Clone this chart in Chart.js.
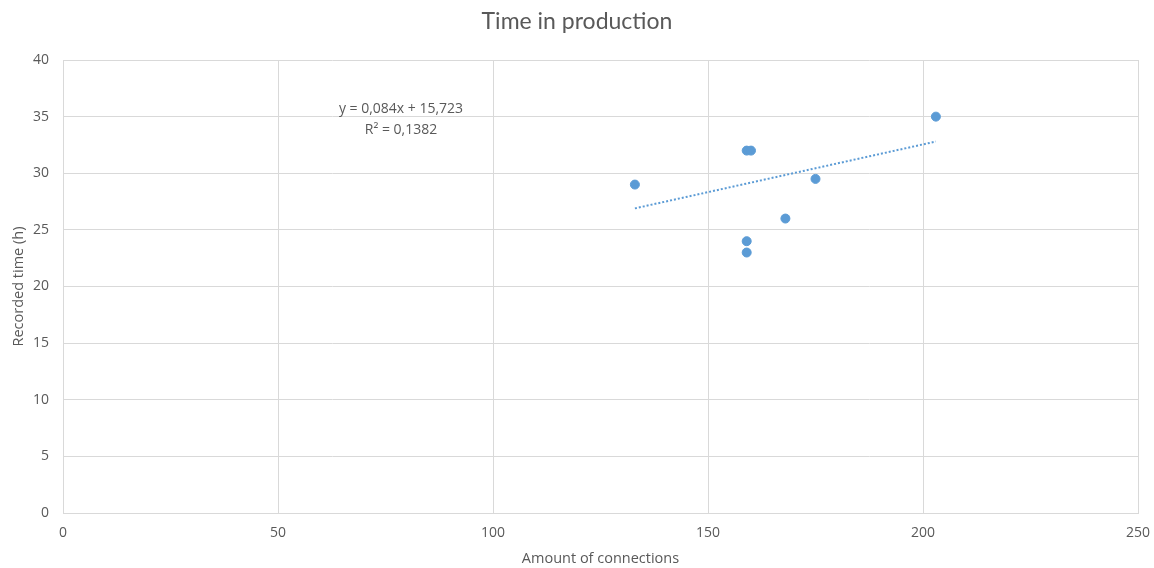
<!DOCTYPE html>
<html>
<head>
<meta charset="utf-8">
<script src="https://cdn.jsdelivr.net/npm/chart.js@4/dist/chart.umd.min.js"></script>
<style>
  html, body { margin: 0; padding: 0; background: #fff; }
  #wrap { width: 1154px; height: 568px; }
</style>
</head>
<body>
<div id="wrap"><canvas id="chart" width="1154" height="568"></canvas></div>
<script>
// Datos
const connections = [133, 159, 160, 159, 159, 168, 175, 203];
const recordedHours = [29, 32, 32, 24, 23, 26, 29.5, 35];

// Línea de tendencia (extremos)
const trendX = [133, 203];
const trendY = [26.9, 32.8];

const xTicks = [0, 50, 100, 150, 200, 250];
const yTicks = [0, 5, 10, 15, 20, 25, 30, 35, 40];

const equationLines = ['y = 0,084x + 15,723', 'R² = 0,1382'];

const textColor = '#595959';
const gridColor = '#d9d9d9';
const pointColor = '#5b9bd5';

// Etiqueta de la ecuación
const equationLabel = {
    id: 'equationLabel',
    afterDatasetsDraw(chart) {
        const { ctx, scales } = chart;
        const x = scales.x.getPixelForValue(78.6);
        const y = scales.y.getPixelForValue(35.7);
        ctx.save();
        ctx.fillStyle = textColor;
        ctx.font = '14px "Open Sans"';
        ctx.textAlign = 'center';
        ctx.textBaseline = 'middle';
        equationLines.forEach((line, i) => ctx.fillText(line, x, y + i * 21));
        ctx.restore();
    }
};

new Chart(document.getElementById('chart'), {
    type: 'scatter',
    data: {
        datasets: [
            {
                label: 'Recorded time',
                data: connections.map((c, i) => ({ x: c, y: recordedHours[i] })),
                backgroundColor: pointColor,
                borderColor: pointColor,
                pointRadius: 4.5,
                pointHoverRadius: 4.5
            },
            {
                label: 'Trend',
                type: 'line',
                data: trendX.map((t, i) => ({ x: t, y: trendY[i] })),
                borderColor: pointColor,
                borderWidth: 2,
                borderDash: [2, 2],
                pointRadius: 0,
                fill: false
            }
        ]
    },
    options: {
        responsive: false,
        animation: false,
        layout: { padding: { left: 8, right: 8, top: 0, bottom: 0 } },
        plugins: {
            legend: { display: false },
            tooltip: { enabled: false },
            title: {
                display: true,
                text: 'Time in production',
                color: textColor,
                font: { family: 'Lato', size: 23, weight: 'normal', lineHeight: 1.2 },
                padding: { top: 8, bottom: 24.4 }
            }
        },
        scales: {
            x: {
                type: 'linear',
                min: 0,
                max: 250,
                afterBuildTicks: axis => { axis.ticks = xTicks.map(v => ({ value: v })); },
                afterFit: axis => {
                    axis.height = 55;
                    axis.paddingLeft = 0;
                    axis.paddingRight = 16;
                },
                grid: { color: gridColor, drawTicks: false },
                border: { color: gridColor },
                ticks: {
                    color: textColor,
                    padding: 12,
                    font: { family: 'Open Sans', size: 14 },
                    maxRotation: 0
                },
                title: {
                    display: true,
                    text: 'Amount of connections',
                    color: textColor,
                    font: { family: 'Open Sans', size: 14.5 },
                    padding: { top: 0, bottom: 0 }
                }
            },
            y: {
                min: 0,
                max: 40,
                afterBuildTicks: axis => { axis.ticks = yTicks.map(v => ({ value: v })); },
                afterFit: axis => { axis.width = 55; },
                grid: { color: gridColor, drawTicks: false },
                border: { color: gridColor },
                ticks: {
                    color: textColor,
                    padding: 14,
                    font: { family: 'Open Sans', size: 14 }
                },
                title: {
                    display: true,
                    text: 'Recorded time (h)',
                    color: textColor,
                    font: { family: 'Open Sans', size: 14.5 },
                    padding: { top: 2, bottom: 0 }
                }
            }
        }
    },
    plugins: [equationLabel]
});
</script>
</body>
</html>
